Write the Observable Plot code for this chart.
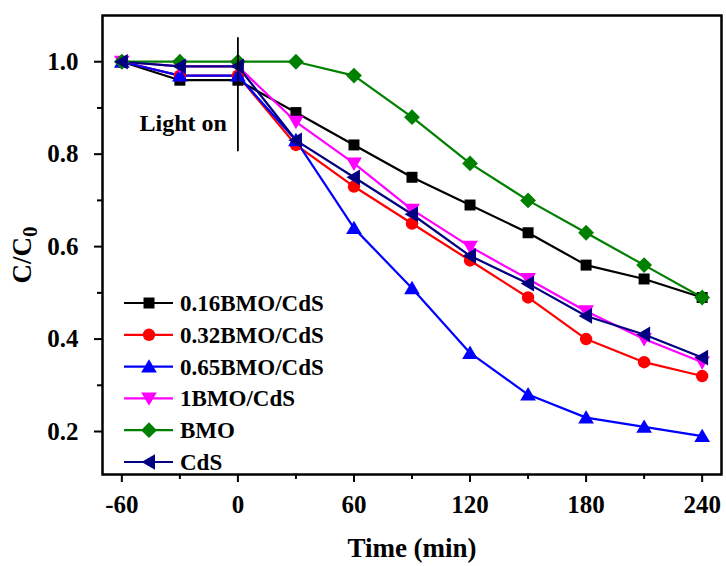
<!DOCTYPE html>
<html>
<head>
<meta charset="utf-8">
<script src="https://cdn.jsdelivr.net/npm/d3@7"></script>
<script src="https://cdn.jsdelivr.net/npm/@observablehq/plot@0.6"></script>
<style>
  html, body { margin: 0; padding: 0; background: #fff; }
  #chart { width: 726px; height: 566px; }
  svg { font-family: "Liberation Serif", "Times New Roman", serif; }
</style>
</head>
<body>
<div id="chart"></div>
<script>
const times = [-60, -30, 0, 30, 60, 90, 120, 150, 180, 210, 240];
const seriesNames = ["0.16BMO/CdS", "0.32BMO/CdS", "0.65BMO/CdS", "1BMO/CdS", "BMO", "CdS"];
const s016 = [1.00, 0.96, 0.96, 0.89, 0.82, 0.75, 0.69, 0.63, 0.56, 0.53, 0.49];
const s032 = [1.00, 0.97, 0.97, 0.82, 0.73, 0.65, 0.57, 0.49, 0.40, 0.35, 0.32];
const s065 = [1.00, 0.97, 0.97, 0.83, 0.64, 0.51, 0.37, 0.28, 0.23, 0.21, 0.19];
const s1 = [1.00, 0.99, 0.99, 0.87, 0.78, 0.68, 0.60, 0.53, 0.46, 0.40, 0.35];
const sBMO = [1.00, 1.00, 1.00, 1.00, 0.97, 0.88, 0.78, 0.70, 0.63, 0.56, 0.49];
const sCdS = [1.00, 0.99, 0.99, 0.83, 0.75, 0.67, 0.58, 0.52, 0.45, 0.41, 0.36];
const xTicks = [-60, 0, 60, 120, 180, 240];
const xMinor = [-30, 30, 90, 150, 210];
const yTicks = [0.2, 0.4, 0.6, 0.8, 1.0];
const yMinor = [0.3, 0.5, 0.7, 0.9];
const lightOnX = 0;
const lightOnY = [0.805, 1.052];
const lightOnLabelY = 0.866;

// custom symbol types
const sq = {draw(ctx, size) { const w = Math.sqrt(size) / 2; ctx.moveTo(-w, -w); ctx.lineTo(w, -w); ctx.lineTo(w, w); ctx.lineTo(-w, w); ctx.closePath(); }};
const diamond = {draw(ctx, size) { const w = Math.sqrt(size) * 0.72; ctx.moveTo(0, -w); ctx.lineTo(w, 0); ctx.lineTo(0, w); ctx.lineTo(-w, 0); ctx.closePath(); }};
const triUp = {draw(ctx, size) { const h = Math.sqrt(size) * 0.62; ctx.moveTo(0, -h); ctx.lineTo(h * 1.05, h * 0.8); ctx.lineTo(-h * 1.05, h * 0.8); ctx.closePath(); }};
const triDown = {draw(ctx, size) { const h = Math.sqrt(size) * 0.62; ctx.moveTo(0, h); ctx.lineTo(h * 1.05, -h * 0.8); ctx.lineTo(-h * 1.05, -h * 0.8); ctx.closePath(); }};
const triLeft = {draw(ctx, size) { const h = Math.sqrt(size) * 0.62; ctx.moveTo(-h, 0); ctx.lineTo(h * 0.8, -h * 1.05); ctx.lineTo(h * 0.8, h * 1.05); ctx.closePath(); }};
const circ = {draw(ctx, size) { const r = Math.sqrt(size / Math.PI); ctx.moveTo(r, 0); ctx.arc(0, 0, r, 0, 2 * Math.PI); }};

const seriesValues = [s016, s032, s065, s1, sBMO, sCdS];
const colors = ["#000000", "#ff0000", "#0000ff", "#ff00ff", "#008000", "#000080"];
const symbols = [sq, circ, triUp, triDown, diamond, triLeft];
const rs = [6.2, 6.2, 6.8, 6.8, 6.2, 6.8];

const data = [];
seriesNames.forEach((name, si) => {
  times.forEach((t, i) => data.push({series: name, si, t, v: seriesValues[si][i]}));
});

const marks = [];
seriesNames.forEach((name, si) => {
  const d = data.filter(e => e.si === si);
  marks.push(Plot.line(d, {x: "t", y: "v", stroke: colors[si], strokeWidth: 2.2}));
});
seriesNames.forEach((name, si) => {
  const d = data.filter(e => e.si === si);
  marks.push(Plot.dot(d, {x: "t", y: "v", fill: colors[si], stroke: "none", symbol: symbols[si], r: rs[si]}));
});

const plot = Plot.plot({
  width: 726,
  height: 566,
  marginLeft: 102,
  marginRight: 5,
  marginTop: 15,
  marginBottom: 92,
  style: {fontFamily: "Liberation Serif, Times New Roman, serif", background: "#fff", fontSize: "25px", fontWeight: "bold"},
  x: {domain: [-70, 250]},
  y: {domain: [0.107, 1.1]},
  marks: [
    ...marks,
    Plot.ruleX([lightOnX], {y1: lightOnY[0], y2: lightOnY[1], stroke: "#000", strokeWidth: 1.8}),
    Plot.text(["Light on"], {x: lightOnX, y: lightOnLabelY, text: d => d, textAnchor: "end", dx: -11, fontSize: 24, fontWeight: "bold", fill: "#000"}),
    Plot.axisX({ticks: xTicks, tickSize: 8, tickPadding: 13, fontSize: 25, fontWeight: "bold", strokeWidth: 2, label: null, tickFormat: d => d < 0 ? "-" + Math.abs(d) : String(d)}),
    Plot.axisX({ticks: xMinor, tickSize: 5, text: null, label: null, strokeWidth: 2}),
    Plot.axisY({ticks: yTicks, tickSize: 8, tickPadding: 16, fontSize: 25, fontWeight: "bold", strokeWidth: 2, label: null, tickFormat: d3.format(".1f")}),
    Plot.axisY({ticks: yMinor, tickSize: 5, text: null, label: null, strokeWidth: 2}),
    Plot.frame({stroke: "#000", strokeWidth: 2.5})
  ]
});

document.getElementById("chart").appendChild(plot);

const svg = d3.select(plot);
svg.selectAll("text").attr("fill", "#000").attr("font-weight", "bold");
svg.selectAll('[aria-label="x-axis tick label"] text, [aria-label="y-axis tick label"] text')
  .style("font-size", "25px").style("font-weight", "bold");
svg.selectAll('[aria-label="text"] text').style("font-size", "24px").style("font-weight", "bold");

// axis titles
svg.append("text")
  .attr("x", 412).attr("y", 557)
  .attr("text-anchor", "middle")
  .style("font-size", "27px").attr("font-weight", "bold")
  .attr("font-family", "Liberation Serif, serif")
  .text("Time (min)");

const yt = svg.append("text")
  .attr("transform", "translate(31,255) rotate(-90)")
  .attr("text-anchor", "middle")
  .style("font-size", "27px").attr("font-weight", "bold")
  .attr("font-family", "Liberation Serif, serif");
yt.append("tspan").text("C/C");
yt.append("tspan").attr("dy", 6).style("font-size", "21px").text("0");

// legend
const lg = svg.append("g").attr("font-family", "Liberation Serif, serif");
seriesNames.forEach((name, i) => {
  const y = 303 + i * 31.8;
  const g = lg.append("g").attr("transform", `translate(0,${y})`);
  g.append("line").attr("x1", 124).attr("x2", 173).attr("y1", 0).attr("y2", 0)
    .attr("stroke", colors[i]).attr("stroke-width", 2.2);
  g.append("path").attr("transform", "translate(149,0)")
    .attr("d", d3.symbol(symbols[i], Math.PI * rs[i] * rs[i])())
    .attr("fill", colors[i]);
  g.append("text").attr("x", 180).attr("y", 0).attr("dy", "0.35em")
    .attr("text-anchor", "start")
    .style("font-size", "23px").attr("font-weight", "bold").attr("fill", "#000")
    .text(name);
});
</script>
</body>
</html>
